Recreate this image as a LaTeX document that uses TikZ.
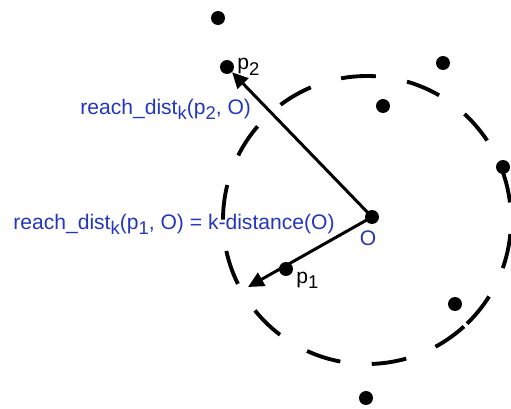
\documentclass[tikz,border=0pt]{standalone}
\usepackage{fontspec}
\setmainfont{Liberation Sans}
\usepackage{tikz}
\usetikzlibrary{arrows.meta, positioning, calc}
\definecolor{labelblue}{RGB}{35,55,190}
\newcommand{\lowsub}[1]{\raisebox{-0.5ex}{\fontsize{10.5}{10.5}\selectfont #1}}

\begin{document}
\begin{tikzpicture}[x=0.02cm, y=-0.02cm,
        pt/.style={circle, fill=black, inner sep=0pt, minimum size=0.28cm},
        reach/.style={line width=1.7pt, -{Triangle[length=9pt, width=8.5pt]}},
        kcircle/.style={line width=2.2pt, dash pattern=on 0.70cm off 0.632cm},
        bluelbl/.style={text=labelblue, font=\fontsize{12}{14}\selectfont, inner sep=0pt},
        ptlbl/.style={font=\fontsize{12}{14}\selectfont, inner sep=0pt}
    ]
        \useasboundingbox (0,0) rectangle (511,409);
        % points
        \node[pt] (O) at (372,217) {};
        \node[pt] (p1) at (286,269) {};
        \node[pt] (p2) at (227,67) {};
        \node[pt] (a) at (218,18) {};
        \node[pt] (b) at (443,63) {};
        \node[pt] (c) at (383,106) {};
        \node[pt] (d) at (503,167) {};
        \node[pt] (e) at (455,304) {};
        \node[pt] (f) at (366,398) {};
        \coordinate (kd) at (248,287);
        \coordinate (ctr) at (367,220);
        % k-distance neighbourhood
        \draw[kcircle] (ctr) ++(46:144) arc[start angle=46, end angle=-314, radius=144];
        \draw[reach] (O.center) -- (p2);
        \draw[reach] (O.center) -- (kd);
        % labels
        \node[ptlbl, anchor=base west] (p2lbl) at (237,70) {p\lowsub{2}};
        \node[ptlbl, anchor=base west] (p1lbl) at (296,283) {p\lowsub{1}};
        \node[bluelbl, anchor=base] (olbl) at (368,245) {O};
        \node[bluelbl, anchor=base west] (r2) at (80,114) {reach\_dist\lowsub{k}(p\lowsub{2}, O)};
        \node[bluelbl, anchor=base west] (r1) at (13,229) {reach\_dist\lowsub{k}(p\lowsub{1}, O) = k-distance(O)};
    \end{tikzpicture}
\end{document}
